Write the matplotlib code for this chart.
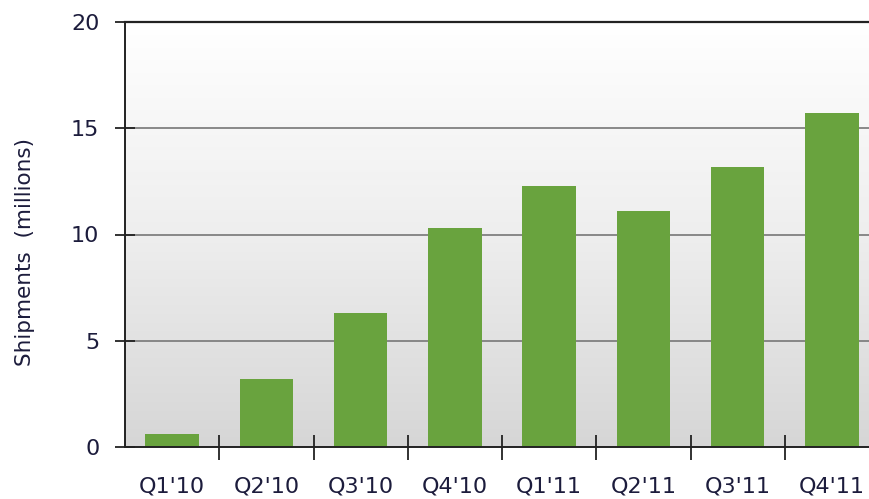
import numpy as np
import matplotlib
matplotlib.use("Agg")
import matplotlib.pyplot as plt
from matplotlib.colors import LinearSegmentedColormap

quarters = ["Q1'10", "Q2'10", "Q3'10", "Q4'10", "Q1'11", "Q2'11", "Q3'11", "Q4'11"]
shipments = [0.6, 3.2, 6.3, 10.3, 12.3, 11.1, 13.2, 15.7]
y_ticks = [0, 5, 10, 15, 20]

TEXT = "#1c1c3c"
GREEN = "#69a33e"

fig = plt.figure(figsize=(8.69, 4.99), dpi=100)
ax = fig.add_axes([125 / 869, 52 / 499, 754 / 869, 425 / 499])
ax.set_xlim(-0.5, len(quarters) - 0.5)
ax.set_ylim(0, 20)

# white-to-grey gradient behind the bars
grad = LinearSegmentedColormap.from_list("bg", ["#d6d6d6", "#eeeeee", "#ffffff"])
ax.imshow(np.linspace(0, 1, 256).reshape(-1, 1), cmap=grad, aspect="auto",
          extent=(-0.5, len(quarters) - 0.5, 0, 20), origin="lower", zorder=0)

for v in y_ticks[1:-1]:
    ax.axhline(v, color="#808080", lw=1.3, zorder=1)
ax.axhline(20, color="#222222", lw=1.6, zorder=1, clip_on=False)

x = np.arange(len(quarters))
ax.bar(x, shipments, width=0.57, color=GREEN, zorder=2)

for s in ["top", "right"]:
    ax.spines[s].set_visible(False)
ax.spines["left"].set_color("#222222")
ax.spines["bottom"].set_color("#222222")
ax.spines["left"].set_linewidth(1.4)
ax.spines["bottom"].set_linewidth(1.4)

ax.set_yticks(y_ticks)
ax.set_yticklabels([str(v) for v in y_ticks], fontsize=16, color=TEXT)
ax.tick_params(axis="y", direction="inout", length=15, width=1.3, color="#222222", pad=11)

ax.set_xticks(x)
ax.set_xticklabels(quarters, fontsize=16, color=TEXT)
ax.tick_params(axis="x", which="major", length=0, pad=21)
ax.set_xticks(x[:-1] + 0.5, minor=True)
ax.tick_params(axis="x", which="minor", direction="inout", length=18, width=1.3, color="#222222")

ax.set_ylabel("Shipments  (millions)", fontsize=15.5, color=TEXT)
ax.yaxis.set_label_coords(-0.12, 0.46)

fig.savefig("out.png", dpi=100)
